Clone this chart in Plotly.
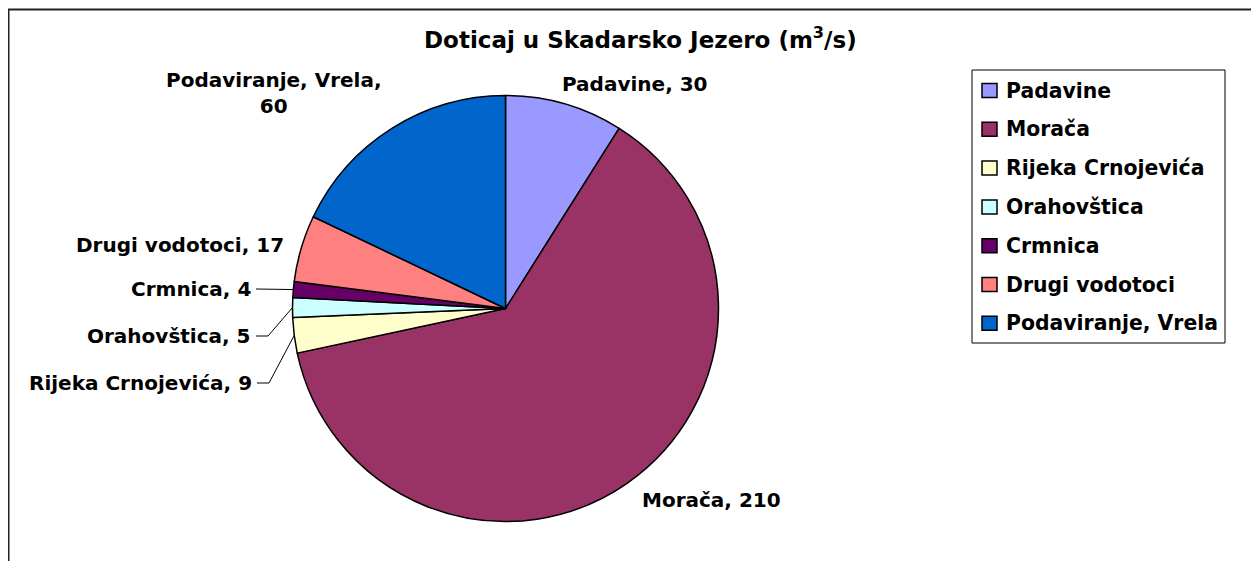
import math
import plotly.graph_objects as go

W, H = 1259, 561

labels = ["Padavine", "Morača", "Rijeka Crnojevića", "Orahovštica", "Crmnica",
          "Drugi vodotoci", "Podaviranje, Vrela"]
values = [30, 210, 9, 5, 4, 17, 60]
colors = ["#9999FF", "#993366", "#FFFFCC", "#CCFFFF", "#660066", "#FF8080", "#0066CC"]
title_text = "Doticaj u Skadarsko Jezero (m<sup>3</sup>/s)"

FONT = dict(family="DejaVu Sans", size=20, color="black", weight="bold")
TFONT = dict(family="DejaVu Sans", size=23, color="black", weight="bold")
LFONT = dict(family="DejaVu Sans", size=20.4, color="black", weight="bold")

# page offset (browser body margin)
OFF = 8

# pie geometry (pixels in screenshot)
CX, CY, R = 505.5, 308.5, 213


def px(x):
    return (x - OFF) / W


def py(y):
    return 1 - (y - OFF) / H


fig = go.Figure()
fig.add_trace(go.Pie(
    labels=labels, values=values, sort=False, direction="clockwise", rotation=0,
    marker=dict(colors=colors, line=dict(color="black", width=1.5)),
    textinfo="none", hoverinfo="label+value", showlegend=False,
    domain=dict(x=[px(CX - R), px(CX + R)], y=[py(CY + R), py(CY - R)]),
))

total = sum(values)


def edge_point(i, rr=R):
    before = sum(values[:i])
    mid = (before + values[i] / 2) / total * 2 * math.pi
    return CX + rr * math.sin(mid), CY - rr * math.cos(mid)


annotations = []
shapes = []

# data label placements (pixel anchor, xanchor)
label_pos = {
    0: (635, 84, "center"),
    1: (711, 500, "center"),
    2: (254, 383, "right"),
    3: (253, 336, "right"),
    4: (253, 289, "right"),
    5: (286, 245, "right"),
    6: (274, 93, "center"),
}
for i, (lx, ly, xa) in label_pos.items():
    name = labels[i]
    if i == 6:
        txt = f"{name},<br>{values[i]}"
    else:
        txt = f"{name}, {values[i]}"
    annotations.append(dict(x=px(lx), y=py(ly), xref="paper", yref="paper", text=txt,
                            showarrow=False, xanchor=xa, yanchor="middle", align="center",
                            font=FONT))

# leader lines for small slices
for i, (lx, ly, xa) in label_pos.items():
    if i in (2, 3):
        ex, ey = edge_point(i)
        path = f"M {px(lx + 3)} {py(ly)} L {px(lx + 15)} {py(ly)} L {px(ex)} {py(ey)}"
        shapes.append(dict(type="path", xref="paper", yref="paper", path=path,
                           line=dict(color="black", width=1)))
    elif i == 4:
        ex, ey = edge_point(i)
        shapes.append(dict(type="line", xref="paper", yref="paper",
                           x0=px(lx + 3), y0=py(ly), x1=px(ex), y1=py(ey),
                           line=dict(color="black", width=1)))

# title
annotations.append(dict(x=px(640), y=py(38), xref="paper", yref="paper", text=title_text,
                        showarrow=False, xanchor="center", yanchor="middle", font=TFONT))

# outer frame
shapes.append(dict(type="rect", xref="paper", yref="paper",
                   x0=px(8.5), y0=py(9.5), x1=px(W + 40), y1=py(H + 40),
                   line=dict(color="#222222", width=2)))

# manual legend
LX0, LY0, LX1, LY1 = 972, 70, 1225, 343
shapes.append(dict(type="rect", xref="paper", yref="paper",
                   x0=px(LX0), y0=py(LY0), x1=px(LX1), y1=py(LY1),
                   line=dict(color="black", width=1), fillcolor="white", layer="below"))
row0, step = 90.5, 38.8
for i, name in enumerate(labels):
    yc = row0 + i * step
    shapes.append(dict(type="rect", xref="paper", yref="paper",
                       x0=px(982), x1=px(997), y0=py(yc - 7), y1=py(yc + 7),
                       fillcolor=colors[i], line=dict(color="black", width=1.5)))
    annotations.append(dict(x=px(1004), y=py(yc), xref="paper", yref="paper", text=name,
                            showarrow=False, xanchor="left", yanchor="middle", font=LFONT))

fig.update_layout(
    width=W, height=H,
    margin=dict(l=0, r=0, t=0, b=0),
    paper_bgcolor="white", plot_bgcolor="white",
    annotations=annotations, shapes=shapes,
    showlegend=False,
)

fig.write_html("out.html")
